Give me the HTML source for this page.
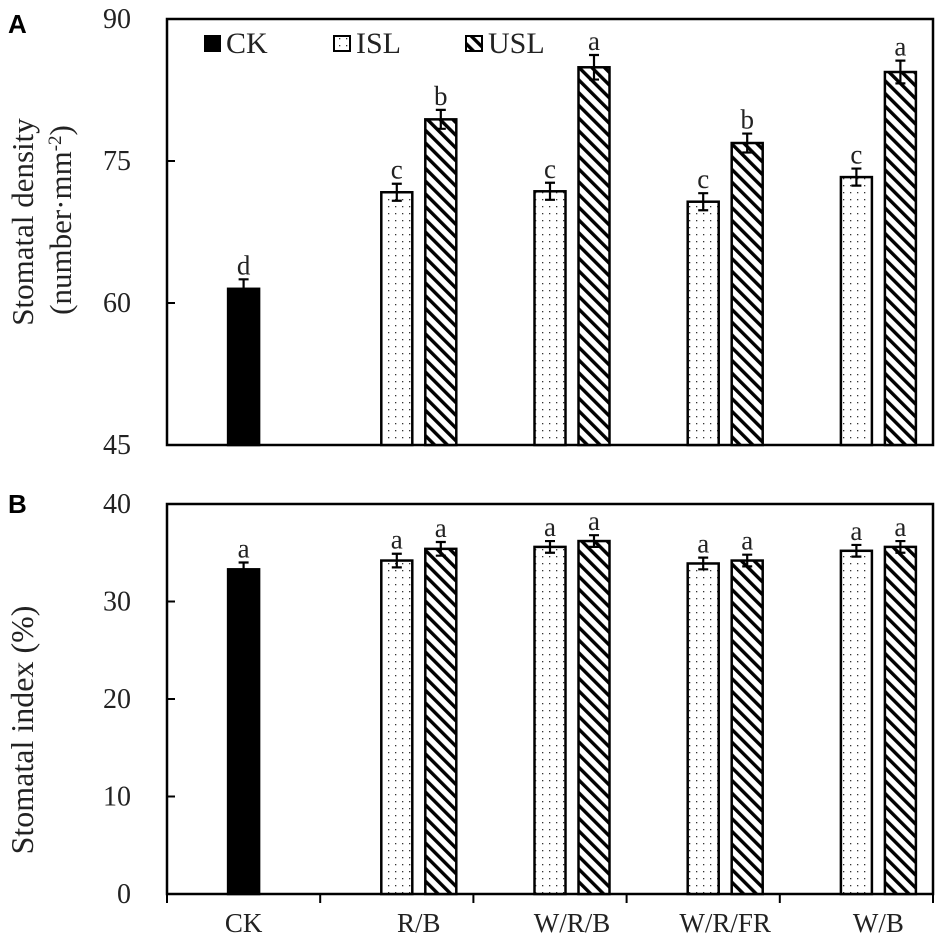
<!DOCTYPE html>
<html><head><meta charset="utf-8"><style>
body{margin:0;background:#fff;}
svg{display:block;font-family:"Liberation Serif",serif;}
</style></head><body>
<svg id="chart" width="945" height="950" viewBox="0 0 945 950">
<defs>
<pattern id="dots" width="7" height="7" patternUnits="userSpaceOnUse">
<rect width="7" height="7" fill="#fff"/><rect x="3" y="3" width="1.3" height="1.3" fill="#333"/>
</pattern>
<pattern id="hatch" width="9" height="9" patternUnits="userSpaceOnUse" patternTransform="rotate(-45)">
<rect width="9" height="9" fill="#fff"/><rect x="0" y="0" width="3.4" height="9" fill="#000"/>
</pattern>
</defs>
<text x="8" y="33" font-family="Liberation Sans, sans-serif" font-weight="bold" font-size="26">A</text>
<text x="8" y="513" font-family="Liberation Sans, sans-serif" font-weight="bold" font-size="26">B</text>
<g font-size="31" fill="#222" text-anchor="middle">
<text transform="translate(33,222) rotate(-90)">Stomatal density</text>
<text transform="translate(71,220) rotate(-90)">(number·mm<tspan dy="-10" font-size="19">-2</tspan><tspan dy="10">)</tspan></text>
</g>
<text transform="translate(33,730) rotate(-90)" font-size="32" fill="#222" text-anchor="middle">Stomatal index (%)</text>
<g font-size="30" fill="#222">
<rect x="204" y="35" width="17" height="17" fill="#000"/>
<text x="226" y="53">CK</text>
<rect x="334" y="36" width="16" height="15" fill="url(#dots)" stroke="#000" stroke-width="2"/>
<text x="356" y="53">ISL</text>
<rect x="466" y="36" width="16" height="15" fill="url(#hatch)" stroke="#000" stroke-width="2"/>
<text x="488" y="53">USL</text>
</g>
<g id="layer"></g>
</svg>
<script>
const categories = ["CK","R/B","W/R/B","W/R/FR","W/B"];
const densityCK = [61.5];
const densityISL = [null,71.7,71.8,70.7,73.3];
const densityUSL = [null,79.4,84.9,76.9,84.4];
const densityErr = [1.0,0.9,0.9,0.9,0.9];
const densityErrUSL = [null,1.0,1.3,1.0,1.2];
const densityLetters = ["d","c","c","c","c"];
const densityLettersUSL = [null,"b","a","b","a"];
const indexCK = [33.3];
const indexISL = [null,34.2,35.6,33.9,35.2];
const indexUSL = [null,35.4,36.2,34.2,35.6];
const indexErr = [0.7,0.7,0.6,0.6,0.6];
const indexLetters = ["a","a","a","a","a"];
const indexLettersUSL = [null,"a","a","a","a"];
const ticksA = [45,60,75,90];
const ticksB = [0,10,20,30,40];

const NS="http://www.w3.org/2000/svg";
const layer=document.getElementById('layer');
function mk(tag,attrs,parent){const e=document.createElementNS(NS,tag);for(const k in attrs)e.setAttribute(k,attrs[k]);(parent||layer).appendChild(e);return e;}
const X0=167,X1=933,BW=31;
const catW=(X1-X0)/categories.length;
function xc(i){return X0+catW*(i+0.5);}

function panel(cfg){
  const y=v=>cfg.yb-(v-cfg.min)/(cfg.max-cfg.min)*(cfg.yb-cfg.yt);
  const g=mk('g',{});
  
  
  const frame=mk('rect',{x:X0,y:cfg.yt,width:X1-X0,height:cfg.yb-cfg.yt,fill:'none',stroke:'#000','stroke-width':2.5},g);
  
  
  cfg.ticks.forEach(t=>{
    const l=mk('line',{x1:X0,x2:X0+8,y1:y(t),y2:y(t),stroke:'#000','stroke-width':2},g);
    
    
    const tx=mk('text',{x:131,y:y(t)+9,'text-anchor':'end','font-size':28,fill:'#222'},g);
    tx.textContent=t;
    
    
  });
  function bar(i,v,dx,fill,err,letter,nm){
    if(v==null)return;
    const x=xc(i)+dx-BW/2;
    const r=mk('rect',{x:x,y:y(v),width:BW,height:cfg.yb-y(v),fill:fill,stroke:'#000','stroke-width':2.5},g);
    
    
    const cx=x+BW/2;
    const e=mk('path',{d:`M${cx} ${y(v+err)}V${y(v-err)}M${cx-5} ${y(v+err)}H${cx+5}M${cx-5} ${y(v-err)}H${cx+5}`,stroke:'#000','stroke-width':2.2,fill:'none'},g);
    
    
    const t=mk('text',{x:cx,y:y(v+err)-5,'text-anchor':'middle','font-size':27,fill:'#222'},g);
    t.textContent=letter;
    
    
  }
  categories.forEach((c,i)=>{
    if(i===0) bar(0,cfg.ck[0],0,'#000',cfg.err[0],cfg.letters[0],'bar-ck');
    else{
      bar(i,cfg.isl[i],0,'url(#dots)',cfg.err[i],cfg.letters[i],'bar-isl-'+c);
      bar(i,cfg.usl[i],44,'url(#hatch)',cfg.errU[i],cfg.lettersU[i],'bar-usl-'+c);
    }
  });
}
panel({name:'panel-a',yt:19,yb:445,min:45,max:90,ticks:ticksA,ck:densityCK,isl:densityISL,usl:densityUSL,err:densityErr,errU:densityErrUSL,letters:densityLetters,lettersU:densityLettersUSL});
panel({name:'panel-b',yt:504,yb:894,min:0,max:40,ticks:ticksB,ck:indexCK,isl:indexISL,usl:indexUSL,err:indexErr,errU:indexErr,letters:indexLetters,lettersU:indexLettersUSL});

for(let i=0;i<=categories.length;i++){
  const l=mk('line',{x1:X0+catW*i,x2:X0+catW*i,y1:894,y2:903,stroke:'#000','stroke-width':2});
  
  
}
categories.forEach((c,i)=>{
  const t=mk('text',{x:xc(i)+(i===0?0:22),y:932,'text-anchor':'middle','font-size':27,fill:'#222'});
  t.textContent=c;
  
  
});
</script>
</body></html>
